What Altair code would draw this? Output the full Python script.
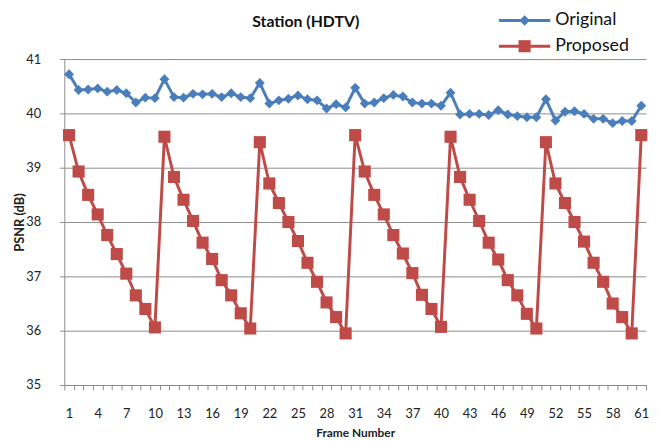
import altair as alt
import pandas as pd

frames = list(range(1, 62))
series_names = ["Original", "Proposed"]
original = [40.72, 40.43, 40.44, 40.46, 40.40, 40.43, 40.37, 40.20, 40.29, 40.28,
            40.63, 40.30, 40.29, 40.36, 40.35, 40.36, 40.30, 40.37, 40.30, 40.28,
            40.56, 40.18, 40.24, 40.27, 40.33, 40.26, 40.24, 40.09, 40.17, 40.11,
            40.47, 40.18, 40.20, 40.28, 40.34, 40.31, 40.20, 40.18, 40.18, 40.14,
            40.38, 39.98, 39.99, 39.99, 39.97, 40.06, 39.98, 39.95, 39.93, 39.93,
            40.26, 39.87, 40.03, 40.04, 39.99, 39.90, 39.90, 39.82, 39.86, 39.86,
            40.14]
proposed = [39.60, 38.93, 38.50, 38.14, 37.76, 37.41, 37.05, 36.65, 36.40, 36.06,
            39.57, 38.83, 38.41, 38.02, 37.62, 37.32, 36.93, 36.65, 36.32, 36.04,
            39.47, 38.71, 38.35, 38.00, 37.65, 37.25, 36.90, 36.52, 36.25, 35.95,
            39.60, 38.93, 38.50, 38.14, 37.76, 37.42, 37.06, 36.66, 36.40, 36.07,
            39.57, 38.83, 38.41, 38.02, 37.62, 37.31, 36.93, 36.65, 36.31, 36.04,
            39.47, 38.71, 38.35, 38.00, 37.64, 37.25, 36.90, 36.50, 36.25, 35.95,
            39.60]
x_labels = list(range(1, 62, 3))
y_ticks = [35, 36, 37, 38, 39, 40, 41]
colors = ["#4A7EBB", "#BE4B48"]
shapes = ["diamond", "square"]

df = pd.DataFrame({
    "frame": frames * 2,
    "psnr": original + proposed,
    "series": [series_names[0]] * len(frames) + [series_names[1]] * len(frames),
})

W, H = 589, 330
FONT = "Lato"
GRID = "#8c8c8c"
x_scale = alt.Scale(domain=[0.5, 61.5], nice=False, zero=False)

# axis 1: ticks at category boundaries, no labels
x_ticks_axis = alt.Axis(
    orient="bottom",
    values=[i + 0.5 for i in range(62)],
    labels=False,
    grid=False,
    tickSize=5,
    tickColor=GRID,
    domainColor=GRID,
    title=None,
)
# axis 2: labels every 3 frames at category centres
x_label_axis = alt.Axis(
    orient="bottom",
    values=x_labels,
    format="d",
    ticks=False,
    domain=False,
    grid=False,
    labelOverlap=False,
    labelFlush=False,
    labelPadding=23,
    labelFont=FONT,
    labelFontSize=13,
    labelColor="#222222",
    title="Frame Number",
    titleFont=FONT,
    titleFontSize=12,
    titleFontWeight="bold",
    titleColor="#222222",
    titleY=48,
    titleBaseline="middle",
)
y_axis = alt.Axis(
    orient="left",
    values=y_ticks,
    format="d",
    grid=True,
    gridColor=GRID,
    gridWidth=1,
    tickSize=5,
    tickColor=GRID,
    domainColor=GRID,
    labelPadding=19,
    labelFont=FONT,
    labelFontSize=13,
    labelColor="#222222",
    title="PSNR (dB)",
    titleFont=FONT,
    titleFontSize=13,
    titleFontWeight="bold",
    titleColor="#222222",
    titleX=-45,
    titleY=H / 2,
    titleAngle=270,
    titleAlign="center",
    titleBaseline="middle",
)
y_scale = alt.Scale(domain=[35, 41], nice=False, zero=False)
color_enc = alt.Color("series:N", scale=alt.Scale(domain=series_names, range=colors), legend=None)
shape_enc = alt.Shape("series:N", scale=alt.Scale(domain=series_names, range=shapes), legend=None)
size_enc = alt.Size("series:N", scale=alt.Scale(domain=series_names, range=[100, 150]), legend=None)

base = alt.Chart(df)
lines = base.mark_line(strokeWidth=3).encode(
    x=alt.X("frame:Q", scale=x_scale, axis=x_ticks_axis),
    y=alt.Y("psnr:Q", scale=y_scale, axis=y_axis),
    color=color_enc, detail="series:N")
points = base.mark_point(filled=True, opacity=1).encode(
    x=alt.X("frame:Q", scale=x_scale, axis=x_label_axis),
    y=alt.Y("psnr:Q", scale=y_scale, axis=y_axis),
    color=color_enc, shape=shape_enc, size=size_enc
)

# manual legend (line + marker + label)
leg_layers = []
leg_rows = [-39, -13]
for name, col, shp, ly, sz in zip(series_names, colors, shapes, leg_rows, [110, 150]):
    one = alt.Chart(pd.DataFrame({"label": [name]}))
    leg_layers.append(one.mark_rule(color=col, strokeWidth=3).encode(
        x=alt.value(440), x2=alt.value(492), y=alt.value(ly)))
    leg_layers.append(one.mark_point(shape=shp, filled=True, opacity=1, color=col, size=sz).encode(
        x=alt.value(466), y=alt.value(ly)))
    leg_layers.append(one.mark_text(align="left", baseline="middle", font=FONT, fontSize=18,
                                    color="#111111").encode(
        x=alt.value(497), y=alt.value(ly), text="label:N"))

chart = alt.layer(lines, points, *leg_layers).resolve_axis(x="independent").properties(
    width=W,
    height=H,
    autosize=alt.AutoSizeParams(type="none"),
    padding={"left": 57, "top": 49, "right": 4, "bottom": 54},
    title=alt.TitleParams(
        "Station (HDTV)", font=FONT, fontSize=16, fontWeight="bold", color="#111111",
        anchor="middle", frame="group", dx=-50, dy=19, offset=0,
    ),
).configure_view(stroke=None)

chart.save("out.html", embed_options={"renderer": "svg", "actions": False})
